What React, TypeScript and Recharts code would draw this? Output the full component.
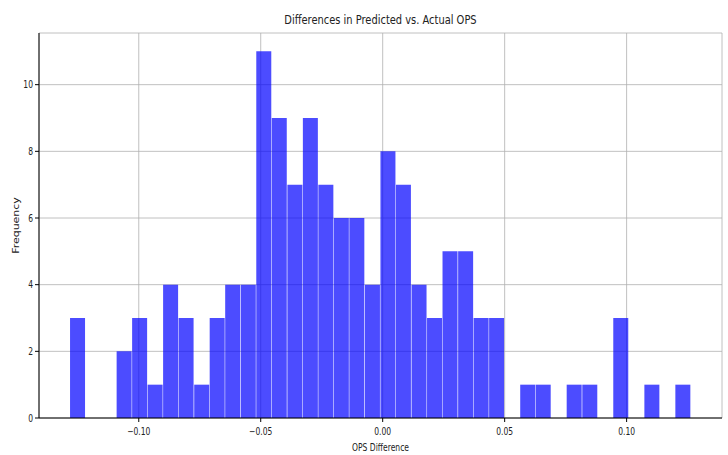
import { BarChart, Bar, XAxis, YAxis, CartesianGrid, Label } from "recharts"

// histogram bin edges (41 edges -> 40 bins) and counts
const binEdges = [
  -0.1282, -0.1218, -0.1155, -0.1091, -0.1027, -0.0964, -0.09, -0.0837, -0.0773, -0.0709,
  -0.0646, -0.0582, -0.0518, -0.0455, -0.0391, -0.0327, -0.0264, -0.02, -0.0137, -0.0073,
  -0.0009, 0.0054, 0.0118, 0.0182, 0.0245, 0.0309, 0.0373, 0.0436, 0.05, 0.0564,
  0.0627, 0.0691, 0.0754, 0.0818, 0.0882, 0.0945, 0.1009, 0.1073, 0.1136, 0.12,
  0.1263,
]

const counts = [
  3, 0, 0, 2, 3, 1, 4, 3, 1, 3,
  4, 4, 11, 9, 7, 9, 7, 6, 6, 4,
  8, 7, 4, 3, 5, 5, 3, 3, 0, 1,
  1, 0, 1, 1, 0, 3, 0, 1, 0, 1,
]

const xTicks = [-0.1, -0.05, 0, 0.05, 0.1]
const yTicks = [0, 2, 4, 6, 8, 10]

const data = counts.map((count, i) => ({
  mid: (binEdges[i] + binEdges[i + 1]) / 2,
  count,
}))

const FONT = "DejaVu Sans"
const SQUEEZE = 0.76

const fmtX = (v: number) => {
  const s = Math.abs(v).toFixed(2)
  return v < -1e-9 ? "\u2212" + s : s
}

function XTick({ x, y, payload }: any) {
  return (
    <text
      transform={`translate(${x},${y + 11}) scale(${SQUEEZE},1)`}
      textAnchor="middle"
      fontSize={10}
      fontFamily={FONT}
      fill="#222"
    >
      {fmtX(payload.value)}
    </text>
  )
}

function YTick({ x, y, payload }: any) {
  return (
    <text
      transform={`translate(${x},${y}) scale(${SQUEEZE},1)`}
      textAnchor="end"
      dy="0.36em"
      fontSize={10}
      fontFamily={FONT}
      fill="#222"
    >
      {payload.value}
    </text>
  )
}

export default function App() {
  return (
    <div style={{ position: "absolute", left: 0, top: 0, width: 728, height: 455, background: "#fff" }}>
      <div
        style={{
          position: "absolute",
          left: 0,
          top: 13,
          width: 761,
          textAlign: "center",
          fontFamily: FONT,
          fontSize: 13,
          lineHeight: "13px",
          color: "#222",
          whiteSpace: "nowrap",
        }}
      >
        <span style={{ display: "inline-block", transform: `scaleX(${SQUEEZE})` }}>
          Differences in Predicted vs. Actual OPS
        </span>
      </div>
      <BarChart
        width={728}
        height={455}
        data={data}
        margin={{ top: 33, right: 6, bottom: 0, left: 0 }}
        barCategoryGap={0}
        barGap={0}
      >
        <CartesianGrid stroke="#b0b0b0" strokeWidth={0.8} />
        <XAxis
          dataKey="mid"
          type="number"
          domain={[-0.1409, 0.1391]}
          allowDataOverflow
          ticks={xTicks}
          tick={<XTick />}
          tickSize={4}
          height={37}
          axisLine={{ stroke: "#000", strokeWidth: 1 }}
          tickLine={{ stroke: "#000" }}
        >
          <Label
            content={({ viewBox }: any) => (
              <text
                transform={`translate(${viewBox.x + viewBox.width / 2},${viewBox.y + 33}) scale(${SQUEEZE},1)`}
                textAnchor="middle"
                fontSize={10}
                fontFamily={FONT}
                fill="#222"
              >
                OPS Difference
              </text>
            )}
          />
        </XAxis>
        <XAxis
          xAxisId="top"
          orientation="top"
          type="number"
          domain={[-0.1409, 0.1391]}
          allowDataOverflow
          height={0}
          tick={false}
          tickLine={false}
          axisLine={{ stroke: "#000", strokeWidth: 1 }}
        />
        <YAxis
          type="number"
          domain={[0, 11.55]}
          allowDataOverflow
          ticks={yTicks}
          tick={<YTick />}
          tickSize={4}
          width={39}
          axisLine={{ stroke: "#000", strokeWidth: 1 }}
          tickLine={{ stroke: "#000" }}
        >
          <Label
            content={({ viewBox }: any) => (
              <text
                transform={`translate(${viewBox.x + 19},${viewBox.y + viewBox.height / 2}) rotate(-90) scale(1,${SQUEEZE})`}
                textAnchor="middle"
                fontSize={11}
                fontFamily={FONT}
                fill="#222"
              >
                Frequency
              </text>
            )}
          />
        </YAxis>
        <YAxis
          yAxisId="right"
          orientation="right"
          width={0}
          domain={[0, 11.55]}
          tick={false}
          tickLine={false}
          axisLine={{ stroke: "#000", strokeWidth: 1 }}
        />
        <Bar dataKey="count" fill="#0000ff" fillOpacity={0.7} isAnimationActive={false} />
      </BarChart>
    </div>
  )
}
